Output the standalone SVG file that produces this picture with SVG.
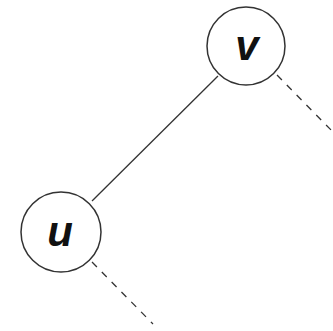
<svg xmlns="http://www.w3.org/2000/svg" width="333" height="331" viewBox="0 0 333 331">
<style>
.node{fill:#fff;stroke:#333;stroke-width:1.5}
.lbl{font-family:"Liberation Sans",Arial,sans-serif;font-size:42px;font-style:italic;font-weight:bold;fill:#111;text-anchor:middle}
.edge{stroke:#333;stroke-width:1.3;fill:none}
.dash{stroke-dasharray:7 7}
</style>
<rect width="333" height="331" fill="#fff"/>
<g id="connectors">
<line class="edge" x1="92" y1="201" x2="218" y2="76"/>
<line class="edge dash" x1="277" y1="75" x2="334" y2="133"/>
<line class="edge dash" x1="92" y1="262" x2="153" y2="324"/>
</g>
<g id="v">
<circle class="node" cx="246" cy="46" r="39"/>
<text class="lbl" x="247" y="60">v</text>
</g>
<g id="u">
<circle class="node" cx="61" cy="232" r="40"/>
<text class="lbl" x="60" y="246">u</text>
</g>
</svg>
